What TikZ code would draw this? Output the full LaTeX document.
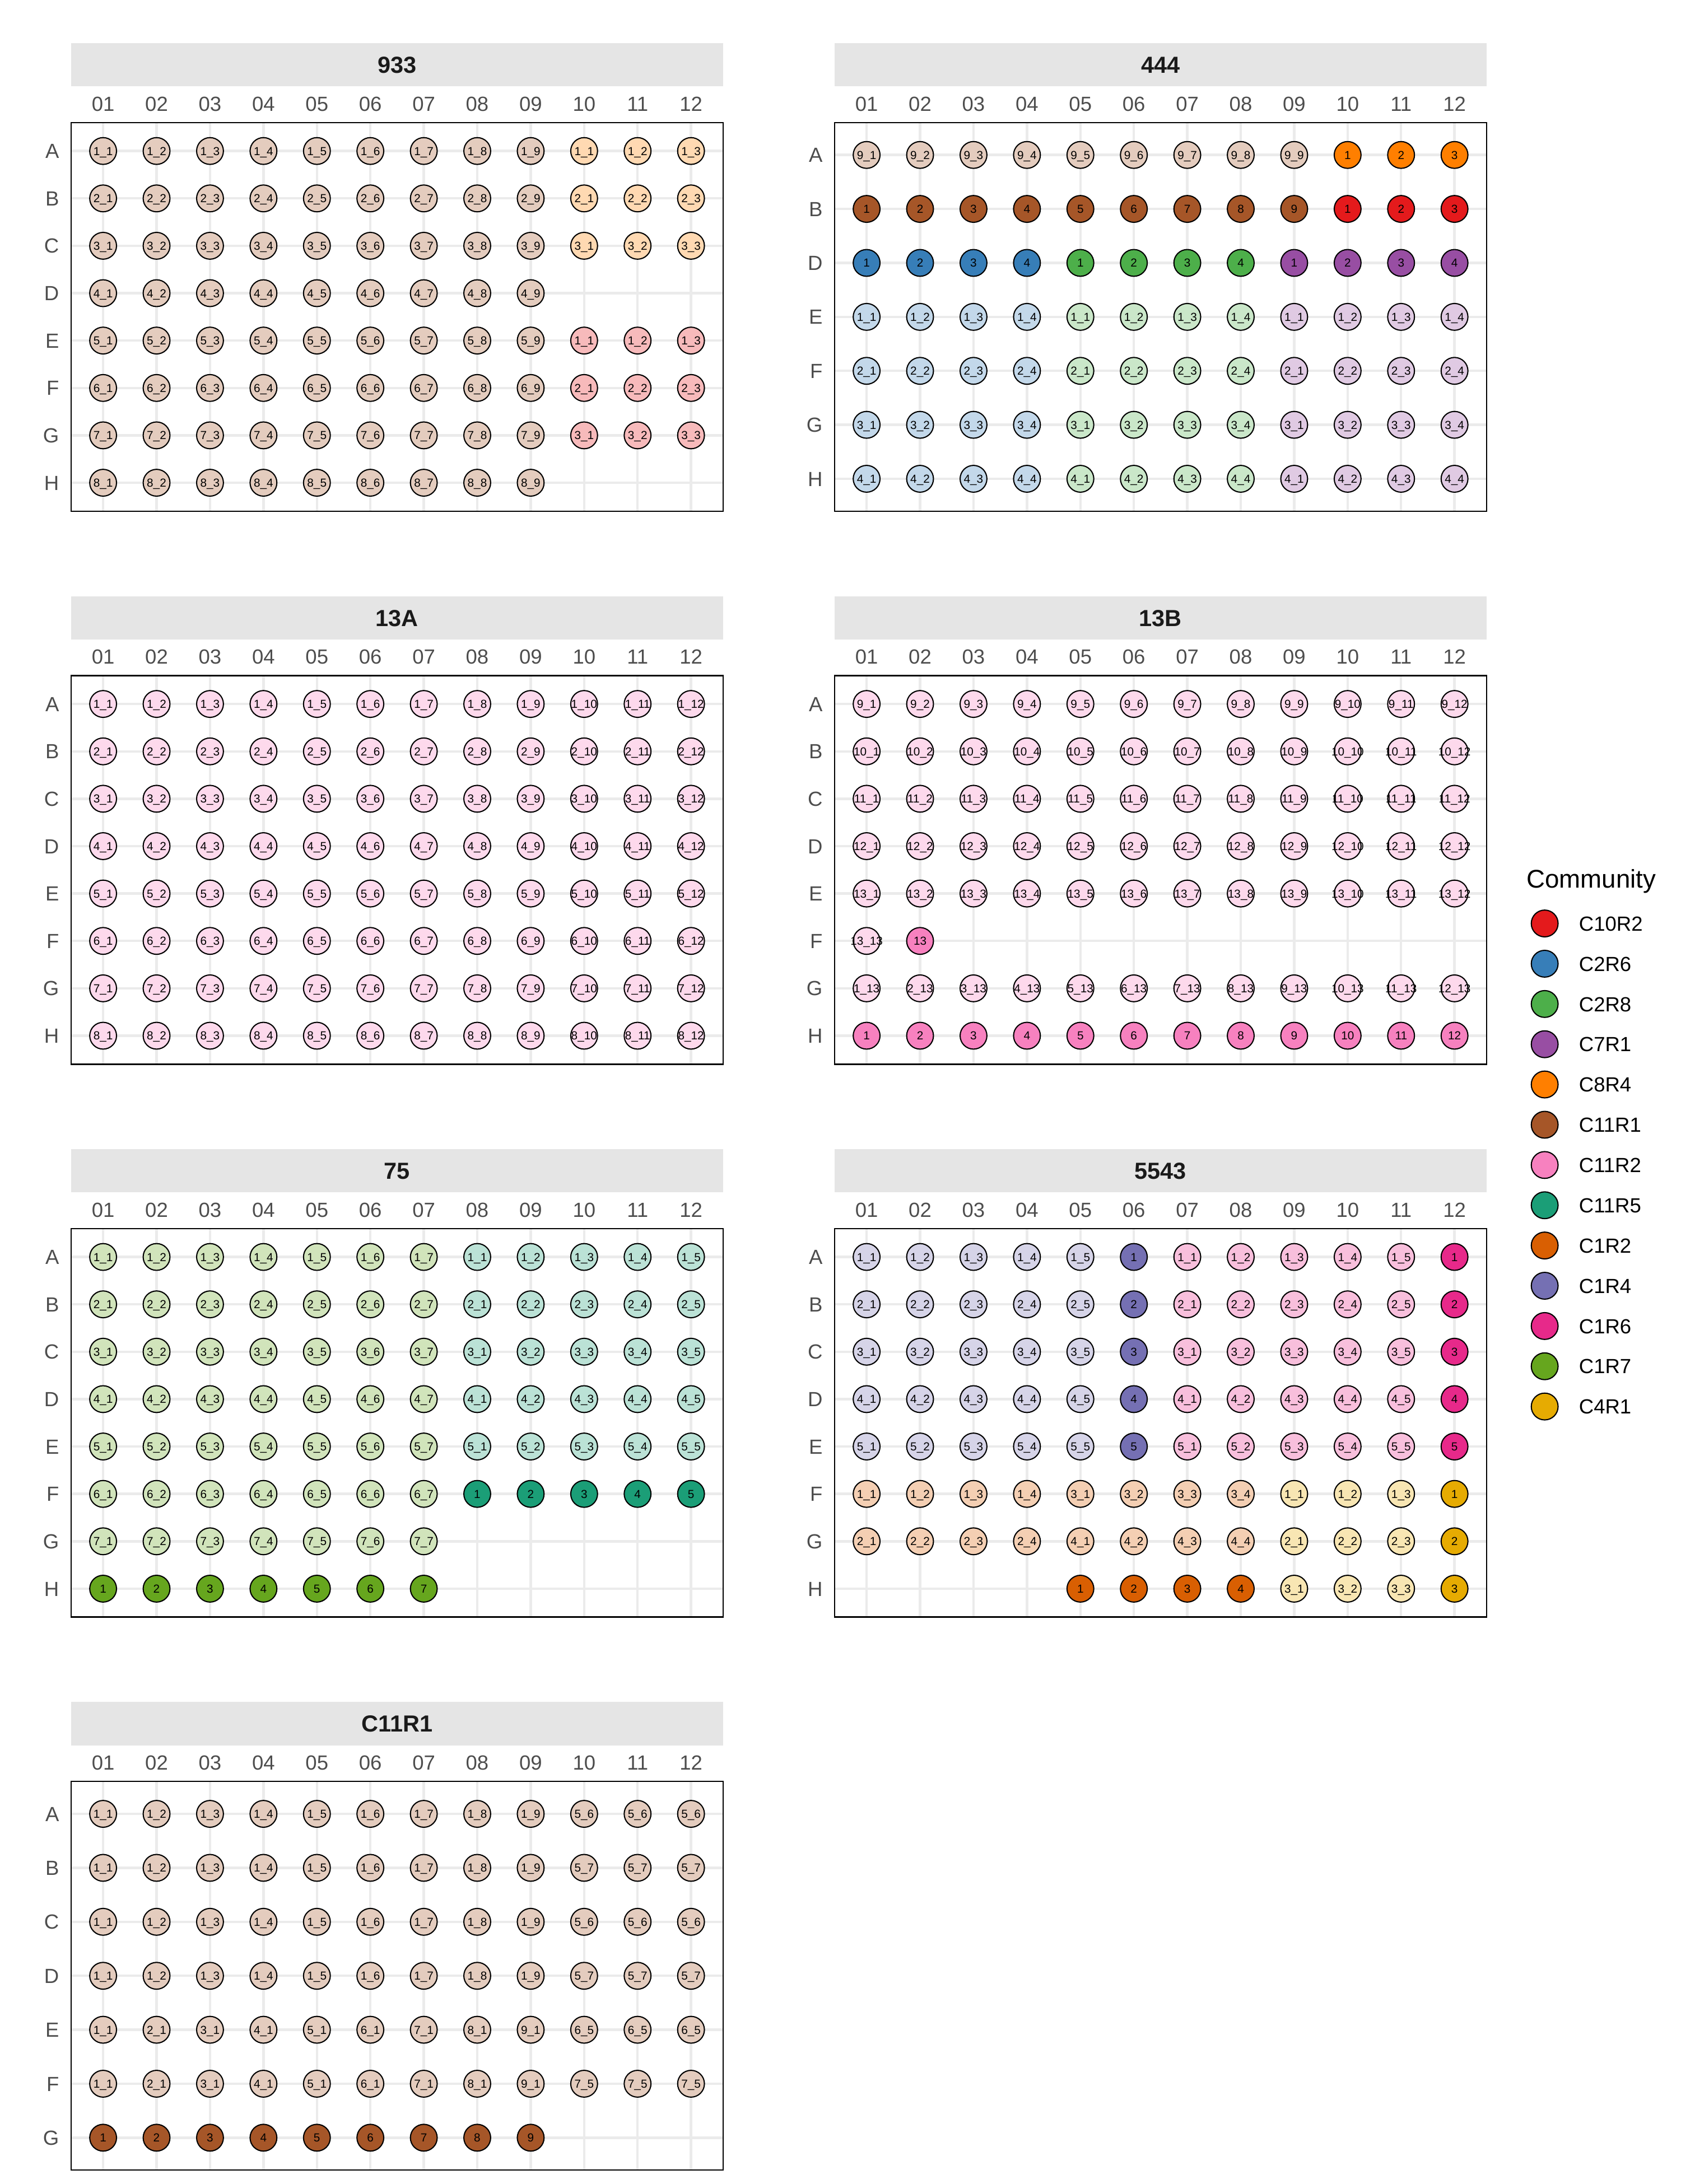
\documentclass[tikz,border=0pt]{standalone}
\usepackage{fontspec}
\setmainfont{Liberation Sans}
\usepackage{tikz}
\definecolor{c10r2}{HTML}{E41A1C}
\definecolor{c2r6}{HTML}{377EB8}
\definecolor{c2r8}{HTML}{4DAF4A}
\definecolor{c7r1}{HTML}{984EA3}
\definecolor{c8r4}{HTML}{FF7F00}
\definecolor{c11r1}{HTML}{A65628}
\definecolor{c11r2}{HTML}{F781BF}
\definecolor{c11r5}{HTML}{1B9E77}
\definecolor{c1r2}{HTML}{D95F02}
\definecolor{c1r4}{HTML}{7570B3}
\definecolor{c1r6}{HTML}{E7298A}
\definecolor{c1r7}{HTML}{66A61E}
\definecolor{c4r1}{HTML}{E6AB02}
\colorlet{c10r2l}{c10r2!30!white}
\colorlet{c2r6l}{c2r6!30!white}
\colorlet{c2r8l}{c2r8!30!white}
\colorlet{c7r1l}{c7r1!30!white}
\colorlet{c8r4l}{c8r4!30!white}
\colorlet{c11r1l}{c11r1!30!white}
\colorlet{c11r2l}{c11r2!30!white}
\colorlet{c11r5l}{c11r5!30!white}
\colorlet{c1r2l}{c1r2!30!white}
\colorlet{c1r4l}{c1r4!30!white}
\colorlet{c1r6l}{c1r6!30!white}
\colorlet{c1r7l}{c1r7!30!white}
\colorlet{c4r1l}{c4r1!30!white}
\definecolor{stripgray}{HTML}{E5E5E5}
\definecolor{gridgray}{HTML}{EBEBEB}
\definecolor{axisgray}{HTML}{4D4D4D}
\definecolor{titlegray}{HTML}{1A1A1A}

% plate frame: #1 id, #2 left, #3 top, #4 title, #5 number of rows, #6 row letters
\newcommand{\plate}[6]{%
  \def\pid{#1}\def\pL{#2}\def\pT{#3}%
  \pgfmathsetmacro{\pH}{279/(#5+0.2)}%
  \fill[stripgray] (#2,#3-57) rectangle (#2+468,#3-26);
  \node[striptext] (#1-title) at (#2+234,#3-35.5) {#4};
  \foreach \lab [count=\c] in {01,02,03,04,05,06,07,08,09,10,11,12} {
    \draw[gridline] ({#2+(\c-0.4)*38.361},#3) -- ++(0,279);
    \node[collab] (#1-col\c) at ({#2+(\c-0.4)*38.361},#3-8.3) {\lab};
  }
  \foreach \lab [count=\r] in {#6} {
    \draw[gridline] (#2,{#3+(\r-0.4)*\pH}) -- ++(468,0);
    \node[rowlab] (#1-row\r) at (#2-8.3,{#3+(\r-0.4)*\pH+5.25}) {\lab};
  }
  \draw[border] (#2,#3) rectangle (#2+468,#3+279);
}
% one well: #1 row, #2 column, #3 fill, #4 text
\newcommand{\well}[4]{%
  \node[well, fill=#3] (\pid-#1-#2) at ({\pL+(#2-0.4)*38.361},{\pT+(#1-0.4)*\pH}) {};
  \node[welltext] (\pid-#1-#2-t) at (\pid-#1-#2) {#4};
}

\begin{document}
\begin{tikzpicture}[
    x=0.021061cm, y=-0.021061cm,
    well/.style={circle, draw=black, line width=0.5pt, minimum size=0.405cm, inner sep=0pt},
    welltext/.style={font=\fontsize{5}{6}\selectfont, inner sep=0pt, text height=3.6pt, text depth=0pt},
    gridline/.style={draw=gridgray, line width=1.07pt},
    border/.style={draw=black, line width=0.6pt},
    striptext/.style={font=\fontsize{10}{12}\selectfont\bfseries, text=titlegray, anchor=base, inner sep=0pt},
    collab/.style={font=\fontsize{8.8}{10}\selectfont, text=axisgray, anchor=base, inner sep=0pt},
    rowlab/.style={font=\fontsize{8.8}{10}\selectfont, text=axisgray, anchor=base east, inner sep=0pt},
    legtitle/.style={font=\fontsize{11}{13}\selectfont, anchor=base west, inner sep=0pt},
    legtext/.style={font=\fontsize{8.8}{10}\selectfont, anchor=base west, inner sep=0pt}
]
    \useasboundingbox (0,0) rectangle (1206.2,1568);

    % Plate 933
    \plate{p933}{51}{88}{933}{8}{A,B,C,D,E,F,G,H}
    \foreach \r in {1,...,8} \foreach \c in {1,...,9} {\well{\r}{\c}{c11r1l}{\r\_\c}}
    \foreach \r in {1,2,3} \foreach \c in {10,11,12} {\pgfmathtruncatemacro{\wb}{\c-9}\well{\r}{\c}{c8r4l}{\r\_\wb}}
    \foreach \r in {5,6,7} \foreach \c in {10,11,12} {\pgfmathtruncatemacro{\wa}{\r-4}\pgfmathtruncatemacro{\wb}{\c-9}\well{\r}{\c}{c10r2l}{\wa\_\wb}}

    % Plate 444
    \plate{p444}{599}{88}{444}{7}{A,B,D,E,F,G,H}
    \foreach \c in {1,...,9} {\well{1}{\c}{c11r1l}{9\_\c}\well{2}{\c}{c11r1}{\c}}
    \foreach \c in {10,11,12} {\pgfmathtruncatemacro{\wb}{\c-9}\well{1}{\c}{c8r4}{\wb}\well{2}{\c}{c10r2}{\wb}}
    \foreach \cbase/\cname in {0/c2r6,4/c2r8,8/c7r1} \foreach \j in {1,...,4} {
        \pgfmathtruncatemacro{\wb}{\cbase+\j}
        \well{3}{\wb}{\cname}{\j}
        \foreach \i in {1,...,4} {\pgfmathtruncatemacro{\wa}{\i+3}\well{\wa}{\wb}{\cname l}{\i\_\j}}
    }

    % Plate 13A
    \plate{p13A}{51}{485}{13A}{8}{A,B,C,D,E,F,G,H}
    \foreach \r in {1,...,8} \foreach \c in {1,...,12} {\well{\r}{\c}{c11r2l}{\r\_\c}}

    % Plate 13B
    \plate{p13B}{599}{485}{13B}{8}{A,B,C,D,E,F,G,H}
    \foreach \r in {1,...,5} \foreach \c in {1,...,12} {\pgfmathtruncatemacro{\wa}{\r+8}\well{\r}{\c}{c11r2l}{\wa\_\c}}
    \well{6}{1}{c11r2l}{13\_13}
    \well{6}{2}{c11r2}{13}
    \foreach \c in {1,...,12} {\well{7}{\c}{c11r2l}{\c\_13}\well{8}{\c}{c11r2}{\c}}

    % Plate 75
    \plate{p75}{51}{882}{75}{8}{A,B,C,D,E,F,G,H}
    \foreach \c in {1,...,7} {\foreach \r in {1,...,7} {\well{\r}{\c}{c1r7l}{\r\_\c}}\well{8}{\c}{c1r7}{\c}}
    \foreach \c in {8,...,12} {\pgfmathtruncatemacro{\wb}{\c-7}\foreach \r in {1,...,5} {\well{\r}{\c}{c11r5l}{\r\_\wb}}\well{6}{\c}{c11r5}{\wb}}

    % Plate 5543
    \plate{p5543}{599}{882}{5543}{8}{A,B,C,D,E,F,G,H}
    \foreach \r in {1,...,5} {
        \foreach \c in {1,...,5} {\well{\r}{\c}{c1r4l}{\r\_\c}}
        \well{\r}{6}{c1r4}{\r}
        \foreach \c in {7,...,11} {\pgfmathtruncatemacro{\wb}{\c-6}\well{\r}{\c}{c1r6l}{\r\_\wb}}
        \well{\r}{12}{c1r6}{\r}
    }
    \foreach \r in {6,7} {
        \pgfmathtruncatemacro{\wa}{\r-5}\pgfmathtruncatemacro{\wc}{\r-3}
        \foreach \c in {1,...,4} {\well{\r}{\c}{c1r2l}{\wa\_\c}}
        \foreach \c in {5,...,8} {\pgfmathtruncatemacro{\wb}{\c-4}\well{\r}{\c}{c1r2l}{\wc\_\wb}}
    }
    \foreach \c in {5,...,8} {\pgfmathtruncatemacro{\wb}{\c-4}\well{8}{\c}{c1r2}{\wb}}
    \foreach \r in {6,7,8} {
        \pgfmathtruncatemacro{\wa}{\r-5}
        \foreach \c in {9,10,11} {\pgfmathtruncatemacro{\wb}{\c-8}\well{\r}{\c}{c4r1l}{\wa\_\wb}}
        \well{\r}{12}{c4r1}{\wa}
    }

    % Plate C11R1
    \plate{pC11R1}{51}{1279}{C11R1}{7}{A,B,C,D,E,F,G}
    \foreach \r in {1,...,4} \foreach \c in {1,...,9} {\well{\r}{\c}{c11r1l}{1\_\c}}
    \foreach \c in {10,11,12} {
        \well{1}{\c}{c11r1l}{5\_6}\well{2}{\c}{c11r1l}{5\_7}
        \well{3}{\c}{c11r1l}{5\_6}\well{4}{\c}{c11r1l}{5\_7}
        \well{5}{\c}{c11r1l}{6\_5}\well{6}{\c}{c11r1l}{7\_5}
    }
    \foreach \c in {1,...,9} {\well{5}{\c}{c11r1l}{\c\_1}\well{6}{\c}{c11r1l}{\c\_1}\well{7}{\c}{c11r1}{\c}}

    % Legend
    \node[legtitle] (leg-title) at (1095.4,637.6) {Community};
    \foreach \cname/\clab [count=\k] in {c10r2/C10R2,c2r6/C2R6,c2r8/C2R8,c7r1/C7R1,c8r4/C8R4,c11r1/C11R1,c11r2/C11R2,c11r5/C11R5,c1r2/C1R2,c1r4/C1R4,c1r6/C1R6,c1r7/C1R7,c4r1/C4R1} {
        \node[well, fill=\cname] (leg-\k) at (1108.7,{663+(\k-1)*28.9}) {};
        \node[legtext] (leg-\k-t) at (1133,{668.3+(\k-1)*28.9}) {\clab};
    }
\end{tikzpicture}
\end{document}
